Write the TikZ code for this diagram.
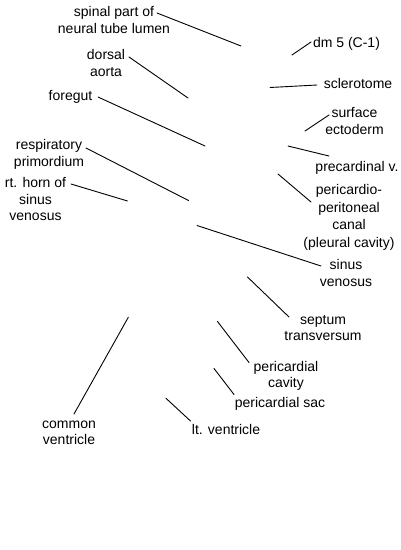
\documentclass[tikz,border=0pt]{standalone}
\usepackage{fontspec}
\setmainfont{Liberation Sans}
\begin{document}
\begin{tikzpicture}[line join=round, line cap=round, x=1pt, y=-1pt]
	\tikzset{every node/.style={align=center, inner sep=0pt, anchor=base, font=\fontsize{14}{16.5}\selectfont}}
	\useasboundingbox (0,0) rectangle (400,550);
	% labels (base = baseline of the last line)
	\node (spinal) at (114,33) {spinal part of\\neural tube lumen};
	\node (dm) at (346.5,47) {dm 5 (C-1)};
	\node (dorsal) at (106,76) {dorsal\\aorta};
	\node (foregut) at (70.5,100.5) {foregut};
	\node (sclero) at (358,88) {sclerotome};
	\node (surface) at (354.5,134) {surface\\ectoderm};
	\node (precard) at (357,171) {precardinal v.};
	\node (pericanal) at (349,247) {pericardio-\\[1pt]peritoneal\\[1pt]canal\\[1pt](pleural cavity)};
	\node (sinus) at (346,286) {sinus\\venosus};
	\node (resp) at (49,166) {respiratory\\primordium};
	\node (rthorn) at (35.5,220.5) {rt. horn of\\sinus\\venosus};
	\node (septum) at (323,340.5) {septum\\transversum};
	\node (pcavity) at (286,387.5) {pericardial\\cavity};
	\node (psac) at (280,407) {pericardial sac};
	\node (ltvent) at (226,434.5) {lt. ventricle};
	\node (common) at (69,444.5) {common\\ventricle};
	% points on the (missing) section
	\coordinate (spinal-t) at (241,46);
	\coordinate (dm-t) at (292,55);
	\coordinate (dorsal-t) at (188,98);
	\coordinate (foregut-t) at (205,146);
	\coordinate (sclero-t) at (270,87.5);
	\coordinate (surface-t) at (305,131);
	\coordinate (precard-t) at (288,146);
	\coordinate (pericanal-t) at (278,174);
	\coordinate (sinus-t) at (197,225.5);
	\coordinate (resp-t) at (188.5,200.5);
	\coordinate (rthorn-t) at (127.5,201);
	\coordinate (septum-t) at (247.5,277);
	\coordinate (pcavity-t) at (217.5,321.5);
	\coordinate (psac-t) at (214,368.5);
	\coordinate (ltvent-t) at (166,398.3);
	\coordinate (common-t) at (128.3,317.3);
	% leaders
	\foreach \n/\dx/\dy in {spinal/43/-20, dm/-35.5/-5, dorsal/23/-19, foregut/27.5/-3.5,
		sclero/-41/-3, surface/-25.5/-19, precard/-28/-15, pericanal/-38/-45,
		sinus/-25/-20, resp/37/-18, rthorn/35.5/-36.5, septum/-34/-23.5,
		pcavity/-37/-25, psac/-46/-12.5, ltvent/-35.5/-13.5, common/5/-30.5}
	\draw[line width=0.9pt] ([shift={(\dx,\dy)}]\n.base) -- (\n-t);
\end{tikzpicture}
\end{document}
